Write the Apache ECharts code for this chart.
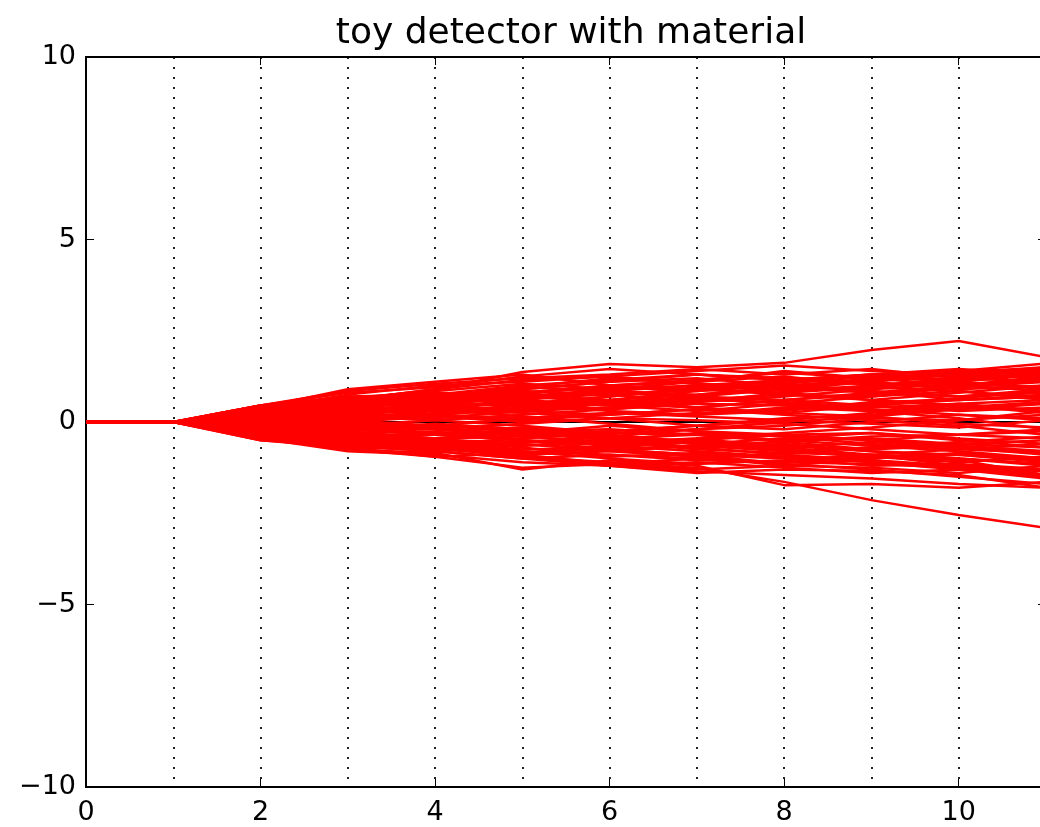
<!DOCTYPE html>
<html>
<head>
<meta charset="utf-8">
<script src="https://cdn.jsdelivr.net/npm/echarts@6/dist/echarts.min.js"></script>
<style>
html,body{margin:0;padding:0;background:#fff;}
#chart{width:1040px;height:827px;}
</style>
</head>
<body>
<div id="chart"></div>
<script>
const titleText = 'toy detector with material';
const layerX = [0,1,2,3,4,5,6,7,8,9,10,11];
const xTicks = [0,2,4,6,8,10];
const yTicks = [-10,-5,0,5,10];
// each track: y at x = 2..11 (x = 0 and 1 are 0)
const t01 = [0.35,0.6,0.9,1.37,1.59,1.5,1.62,1.97,2.22,1.78];
const t02 = [-0.3,-0.55,-0.7,-0.95,-1.1,-1.26,-1.64,-2.14,-2.55,-2.9];
const t03 = [-0.4,-0.75,-0.85,-1.3,-1.05,-1.2,-1.73,-1.7,-1.8,-1.64];
const t04 = [-0.45,-0.8,-0.9,-1.1,-1.2,-1.4,-1.3,-1.34,-1.45,-1.8];
const t05 = [0.45,0.85,1.05,1.2,1.3,1.45,1.3,1.45,1.2,1.5];
const t06 = [0.4,0.9,1.1,1.3,1.0,1.1,1.4,1.2,1.3,1.45];
const t07 = [0.2,0.4,0.55,0.7,0.9,1.1,1.25,1.0,1.15,1.35];
const t08 = [0.3,0.5,0.8,0.6,0.8,0.7,0.9,1.1,1.3,1.2];
const t09 = [-0.2,-0.35,-0.6,-0.8,-0.9,-1.0,-1.1,-0.95,-1.04,-1.45];
const t10 = [0.1,0.2,0.1,0.3,0.5,0.4,0.6,0.8,0.7,0.9];
const t11 = [-0.1,-0.2,-0.35,-0.3,-0.5,-0.7,-0.6,-0.8,-0.9,-1.1];
const t12 = [0.25,0.3,0.45,0.5,0.3,0.2,0.4,0.3,0.5,0.6];
const t13 = [-0.25,-0.4,-0.3,-0.5,-0.6,-0.45,-0.7,-0.9,-1.2,-1.3];
const t14 = [0.05,0.1,0.3,0.25,0.1,-0.1,-0.2,0.0,0.2,0.1];
const t15 = [-0.05,-0.1,0.05,0.2,0.35,0.5,0.45,0.3,0.1,-0.2];
const t16 = [0.15,0.35,0.6,0.85,0.75,0.9,0.8,0.6,0.8,1.0];
const t17 = [-0.35,-0.6,-0.7,-0.6,-0.8,-0.95,-1.2,-1.25,-1.4,-1.2];
const t18 = [0.3,0.55,0.7,0.9,1.1,1.2,1.0,0.85,0.6,0.7];
const t19 = [-0.15,-0.25,-0.45,-0.65,-0.5,-0.3,-0.4,-0.6,-0.75,-0.85];
const t20 = [0.0,0.05,-0.1,-0.25,-0.2,-0.35,-0.5,-0.45,-0.6,-0.5];
const t21 = [0.2,0.25,0.15,0.0,0.1,0.25,0.35,0.5,0.65,0.85];
const t22 = [-0.3,-0.45,-0.5,-0.7,-0.95,-0.85,-0.95,-1.1,-1.3,-1.55];
const t23 = [0.1,0.3,0.5,0.45,0.6,0.85,1.0,1.15,1.2,1.35];
const t24 = [-0.2,-0.15,-0.2,-0.05,0.1,0.05,-0.05,-0.2,-0.35,-0.45];
const t25 = [0.35,0.5,0.45,0.3,0.4,0.6,0.75,0.7,0.95,1.1];
const t26 = [-0.1,-0.3,-0.5,-0.55,-0.4,-0.2,-0.1,0.1,0.05,0.3];
const t27 = [0.05,-0.05,-0.2,-0.4,-0.55,-0.75,-0.85,-0.7,-0.6,-0.7];
const t28 = [0.25,0.45,0.65,0.95,1.2,1.05,0.9,0.95,0.85,0.6];
const t29 = [-0.4,-0.55,-0.6,-0.45,-0.3,-0.35,-0.5,-0.65,-0.8,-1.0];
const t30 = [0.15,0.1,0.2,0.35,0.55,0.7,0.6,0.45,0.3,0.4];
const t31 = [-0.25,-0.35,-0.45,-0.4,-0.25,-0.1,0.05,-0.05,-0.15,0.05];
const t32 = [0.4,0.65,0.8,0.75,0.6,0.4,0.25,0.15,-0.05,-0.15];
const t33 = [-0.05,0.05,0.2,0.4,0.6,0.75,0.95,1.2,1.35,1.5];
const t34 = [0.0,-0.15,-0.35,-0.5,-0.75,-0.9,-1.15,-1.3,-1.5,-1.7];
const t35 = [0.2,0.35,0.3,0.45,0.7,0.95,1.1,1.3,1.25,1.4];
const t36 = [-0.3,-0.5,-0.75,-0.9,-0.8,-0.65,-0.55,-0.4,-0.35,-0.2];
const t37 = [0.1,0.15,0.05,-0.1,-0.3,-0.2,0.0,0.15,0.35,0.5];
const t38 = [-0.15,-0.3,-0.25,-0.15,-0.35,-0.55,-0.8,-0.95,-0.9,-1.05];
const t39 = [0.3,0.4,0.55,0.65,0.85,1.0,1.15,1.05,0.95,1.15];
const t40 = [-0.1,-0.15,-0.1,0.1,0.25,0.2,0.3,0.55,0.6,0.75];
const t41 = [0.45,0.7,0.75,0.55,0.45,0.6,0.55,0.4,0.5,0.3];
const t42 = [-0.45,-0.65,-0.8,-1.0,-0.9,-1.05,-1.1,-1.15,-1.25,-1.35];
const t43 = [0.05,0.2,0.35,0.15,-0.05,-0.25,-0.35,-0.3,-0.45,-0.6];
const t44 = [-0.2,-0.4,-0.55,-0.75,-0.7,-0.55,-0.75,-0.95,-1.1,-0.95];
const t45 = [0.2,0.3,0.5,0.65,0.75,0.55,0.7,0.9,1.05,0.95];
const t46 = [-0.05,0.0,0.15,0.05,0.2,0.35,0.2,0.05,-0.1,-0.35];
const t47 = [0.3,0.35,0.2,0.1,0.25,0.15,0.05,0.25,0.45,0.25];
const t48 = [-0.35,-0.45,-0.35,-0.2,-0.45,-0.6,-0.45,-0.3,-0.5,-0.7];
const t49 = [0.1,0.25,0.4,0.6,0.45,0.3,0.5,0.7,0.85,0.65];
const t50 = [-0.25,-0.2,-0.05,-0.2,-0.4,-0.6,-0.7,-0.55,-0.7,-0.9];
const t51 = [0.45,0.8,0.95,1.25,1.45,1.3,1.15,1.3,1.45,1.3];
const t52 = [-0.5,-0.7,-0.95,-1.25,-1.15,-1.0,-0.85,-0.9,-1.0,-1.2];
const t53 = [0.35,0.75,1.0,1.1,1.25,1.4,1.55,1.4,1.3,1.2];
const t54 = [-0.35,-0.65,-0.8,-1.0,-1.2,-1.35,-1.45,-1.55,-1.7,-1.8];
const t55 = [0.15,0.45,0.75,1.0,1.15,1.3,1.2,1.1,0.9,1.0];
const t56 = [-0.15,-0.45,-0.65,-0.85,-0.75,-0.9,-1.0,-1.2,-1.15,-1.3];
const t57 = [0.25,0.6,0.7,0.95,0.85,0.75,0.95,1.15,1.4,1.45];
const t58 = [-0.4,-0.6,-0.55,-0.8,-1.0,-1.15,-1.05,-0.9,-0.75,-0.6];
const t59 = [0.05,0.25,0.55,0.8,1.0,0.9,0.75,0.6,0.45,0.3];
const t60 = [-0.05,-0.25,-0.5,-0.65,-0.55,-0.45,-0.3,-0.15,0.05,0.2];
const t61 = [0.4,0.55,0.6,0.8,0.95,0.85,1.05,1.25,1.1,1.3];
const t62 = [-0.3,-0.35,-0.55,-0.6,-0.75,-0.65,-0.8,-0.7,-0.55,-0.4];
const t63 = [0.2,0.4,0.35,0.55,0.5,0.65,0.5,0.35,0.2,0.05];
const t64 = [-0.2,-0.5,-0.65,-0.9,-1.15,-1.3,-1.2,-1.0,-0.85,-1.0];
const t65 = [0.3,0.65,0.85,1.05,0.9,1.0,0.85,1.0,1.2,1.1];
const t66 = [-0.45,-0.75,-0.95,-0.85,-0.65,-0.8,-0.95,-1.05,-1.25,-1.5];
const t67 = [0.1,0.05,0.25,0.45,0.35,0.55,0.8,0.95,1.1,0.9];
const t68 = [-0.1,0.0,-0.15,-0.35,-0.25,-0.1,0.1,0.2,0.4,0.55];
const t69 = [0.35,0.45,0.65,0.5,0.7,0.9,1.05,0.85,0.7,0.8];
const t70 = [-0.25,-0.55,-0.45,-0.3,-0.1,-0.25,-0.4,-0.5,-0.35,-0.25];
const t71 = [0.0,0.2,0.45,0.7,0.55,0.4,0.6,0.75,1.0,1.2];
const t72 = [-0.35,-0.4,-0.6,-0.85,-0.7,-0.5,-0.65,-0.8,-1.0,-1.15];
const t73 = [0.45,0.6,0.9,1.15,1.25,1.05,0.95,0.8,1.0,0.85];
const t74 = [-0.4,-0.7,-0.75,-0.55,-0.5,-0.7,-0.9,-1.05,-1.2,-1.45];
const t75 = [0.15,0.2,0.4,0.3,0.2,0.35,0.25,0.45,0.6,0.7];
const t76 = [-0.15,-0.2,-0.35,-0.5,-0.65,-0.5,-0.35,-0.5,-0.65,-0.8];
const t77 = [0.25,0.5,0.55,0.75,1.0,1.15,1.35,1.2,1.0,1.25];
const t78 = [-0.5,-0.65,-0.7,-0.95,-1.2,-1.1,-1.25,-1.4,-1.3,-1.45];
const t79 = [0.05,-0.1,-0.3,-0.25,-0.45,-0.35,-0.55,-0.75,-0.65,-0.85];
const t80 = [0.4,0.7,0.65,0.9,1.1,1.3,1.15,1.3,1.4,1.6];
const tracks = [t01,t02,t03,t04,t05,t06,t07,t08,t09,t10,t11,t12,t13,t14,t15,t16,t17,t18,t19,t20,
  t21,t22,t23,t24,t25,t26,t27,t28,t29,t30,t31,t32,t33,t34,t35,t36,t37,t38,t39,t40,
  t41,t42,t43,t44,t45,t46,t47,t48,t49,t50,t51,t52,t53,t54,t55,t56,t57,t58,t59,t60,
  t61,t62,t63,t64,t65,t66,t67,t68,t69,t70,t71,t72,t73,t74,t75,t76,t77,t78,t79,t80];
const baseline = [[0,0],[11,0]];

const FONT = 'DejaVu Sans';
const chart = echarts.init(document.getElementById('chart'), null, {renderer:'canvas'});

const series = [{
  type:'line', data: baseline, symbol:'none', silent:true, z:1,
  lineStyle:{color:'#000', width:2}, xAxisIndex:0, yAxisIndex:0
}];
tracks.forEach(function(t){
  const ys = [0,0].concat(t);
  series.push({
    type:'line', symbol:'none', silent:true, z:2, animation:false,
    data: layerX.map(function(x,i){return [x, ys[i]];}),
    lineStyle:{color:'#ff0000', width:2.5}, xAxisIndex:0, yAxisIndex:0
  });
});

const tickLabelStyle = {fontFamily:FONT, fontSize:27, color:'#000'};
chart.setOption({
  animation:false,
  backgroundColor:'#fff',
  title:{text:titleText, left:566, top:11, textAlign:'center',
    textStyle:{fontFamily:FONT, fontSize:36, fontWeight:'normal', color:'#000'}},
  grid:{left:86, top:57, width:960, bottom:40, containLabel:false, outerBoundsMode:'none',
    show:true, borderColor:'#000', borderWidth:2, backgroundColor:'transparent'},
  xAxis:[
    {type:'value', min:0, max:11, interval:2, position:'bottom',
     axisLine:{show:true, onZero:false, lineStyle:{color:'#000', width:2}},
     axisTick:{show:true, inside:true, length:8, lineStyle:{color:'#000', width:1}},
     axisLabel:{show:true, margin:12, showMaxLabel:false, ...tickLabelStyle,
       formatter:function(v){return xTicks.indexOf(v)>=0 ? String(v) : '';}},
     splitLine:{show:false}},
    {type:'value', min:0, max:11, interval:2, position:'top',
     axisLine:{show:true, onZero:false, lineStyle:{color:'#000', width:2}},
     axisTick:{show:true, inside:true, length:8, lineStyle:{color:'#000', width:1}},
     axisLabel:{show:false}, splitLine:{show:false}},
    {type:'value', min:0, max:11, interval:1, position:'bottom', show:true,
     axisLine:{show:false}, axisTick:{show:false}, axisLabel:{show:false},
     splitLine:{show:true, lineStyle:{color:'#222', width:2, type:[2,8]}}}
  ],
  yAxis:[
    {type:'value', min:-10, max:10, interval:5, position:'left',
     axisLine:{show:true, onZero:false, lineStyle:{color:'#000', width:2}},
     axisTick:{show:true, inside:true, length:8, lineStyle:{color:'#000', width:1}},
     axisLabel:{show:true, margin:10, ...tickLabelStyle,
       formatter:function(v){return v<0 ? '\u2212'+Math.abs(v) : String(v);}},
     splitLine:{show:false}},
    {type:'value', min:-10, max:10, interval:5, position:'right',
     axisLine:{show:true, onZero:false, lineStyle:{color:'#000', width:2}},
     axisTick:{show:true, inside:true, length:8, lineStyle:{color:'#000', width:1}},
     axisLabel:{show:false}, splitLine:{show:false}}
  ],
  series: series
});
</script>
</body>
</html>
